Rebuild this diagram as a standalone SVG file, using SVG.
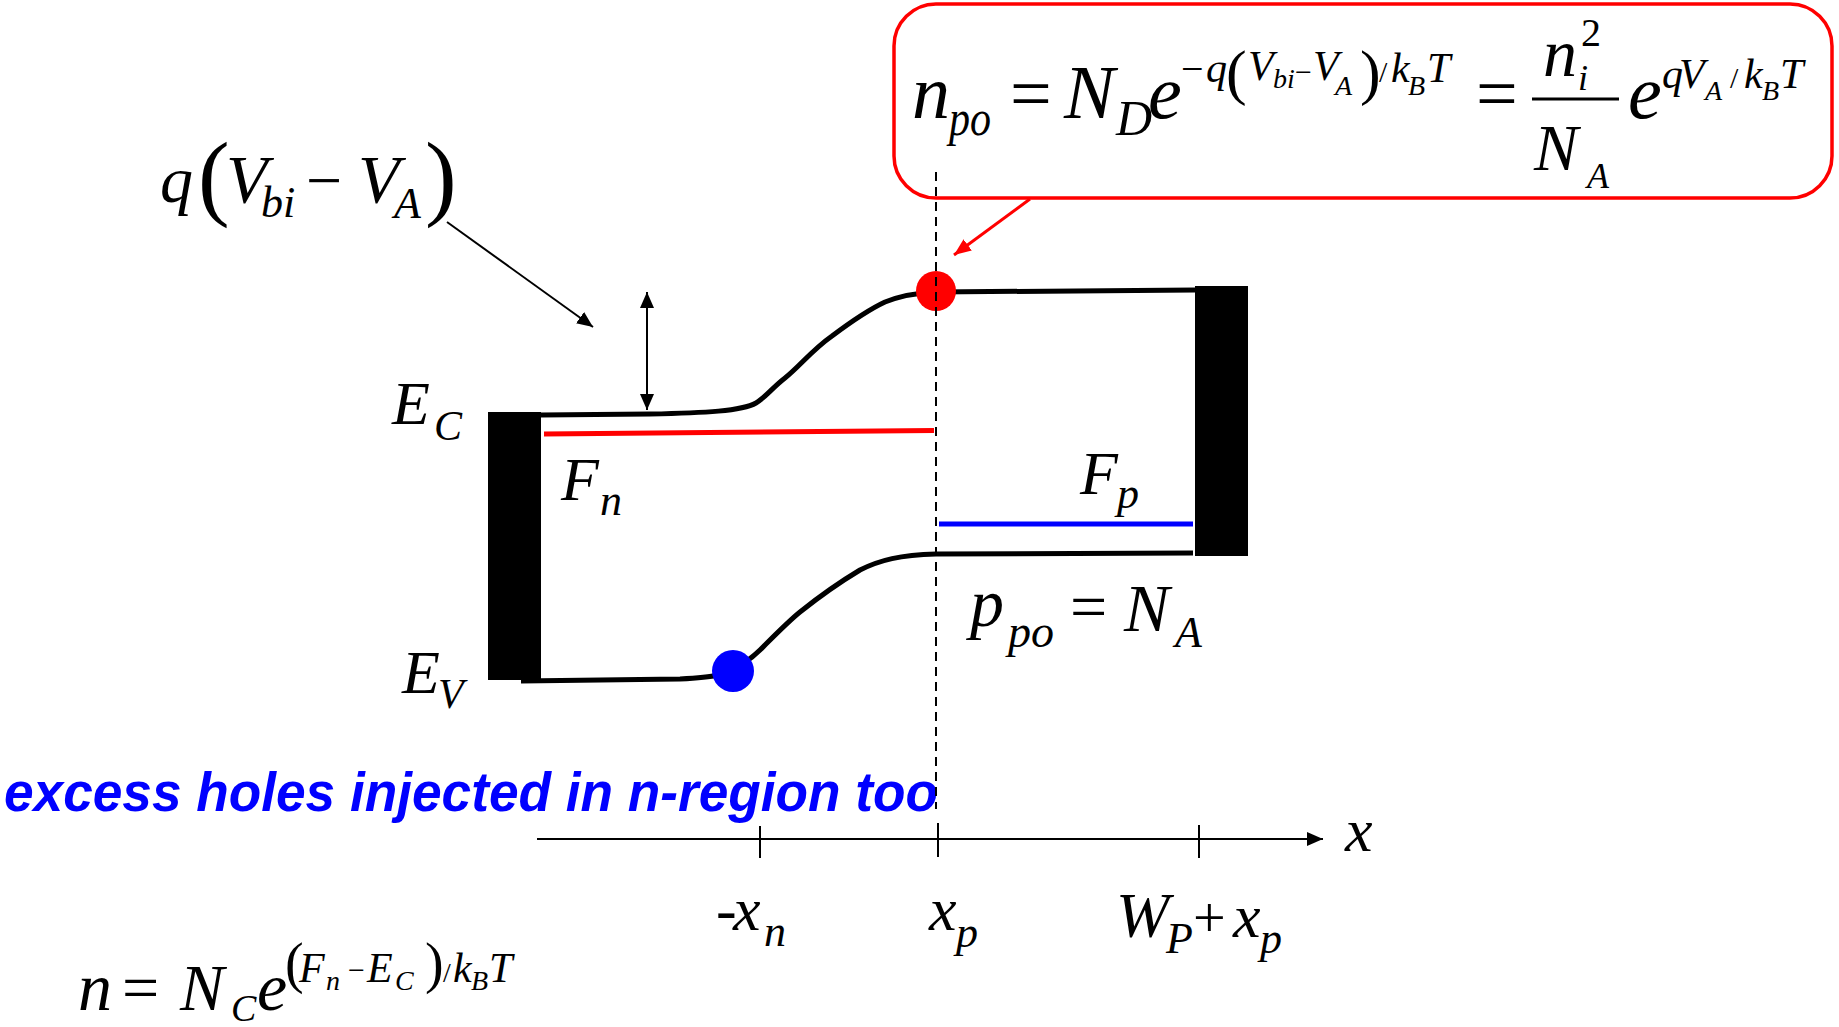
<svg xmlns="http://www.w3.org/2000/svg" width="1839" height="1027" viewBox="0 0 1839 1027">
<style>
.m{font-family:"Liberation Serif","Times New Roman",serif;font-style:italic;fill:#000}
.r{font-family:"Liberation Serif","Times New Roman",serif;font-style:normal;fill:#000}
.band{fill:none;stroke:#000;stroke-width:5;stroke-linecap:butt;stroke-linejoin:round}
.thin{fill:none;stroke:#000;stroke-width:2}
.blue{font-family:"Liberation Sans",Arial,sans-serif;font-weight:bold;font-style:italic;fill:#0000ff}
</style>
<defs>
<marker id="ah" markerWidth="16" markerHeight="14" refX="16" refY="7" orient="auto-start-reverse" markerUnits="userSpaceOnUse"><path d="M0,0 L16,7 L0,14 Z" fill="#000"/></marker>
<marker id="ahr" markerWidth="17" markerHeight="14" refX="17" refY="7" orient="auto" markerUnits="userSpaceOnUse"><path d="M0,0 L17,7 L0,14 Z" fill="#ff0000"/></marker>
</defs>
<rect width="1839" height="1027" fill="#fff"/>

<g id="callout">
<rect x="894" y="4" width="938" height="194" rx="42" ry="42" fill="#fff" stroke="#ff0000" stroke-width="3.5"/>
<text class="m" x="912" y="118" font-size="76">n</text>
<text class="m" x="949" y="135" font-size="50" textLength="42" lengthAdjust="spacingAndGlyphs">po</text>
<text class="r" x="1010" y="118" font-size="74">=</text>
<text class="m" x="1064" y="118" font-size="76">N</text>
<text class="m" x="1116" y="135" font-size="50">D</text>
<text class="m" x="1148" y="118" font-size="76">e</text>
<text class="r" x="1181" y="82" font-size="40">−</text>
<text class="m" x="1206" y="82" font-size="42">q</text>
<text class="r" x="1226" y="93" font-size="62">(</text>
<text class="m" x="1248" y="80" font-size="42">V</text>
<text class="m" x="1273" y="88" font-size="28">bi</text>
<text class="r" x="1295" y="82" font-size="30">−</text>
<text class="m" x="1313" y="80" font-size="42">V</text>
<text class="m" x="1335" y="95" font-size="28">A</text>
<text class="r" x="1360" y="93" font-size="62">)</text>
<text class="r" x="1379" y="82" font-size="30">/</text>
<text class="m" x="1391" y="82" font-size="42">k</text>
<text class="m" x="1408" y="95" font-size="28">B</text>
<text class="m" x="1427" y="82" font-size="42">T</text>
<text class="r" x="1476" y="118" font-size="74">=</text>
<line x1="1532" y1="99" x2="1619" y2="99" stroke="#000" stroke-width="3"/>
<text class="m" x="1543" y="76" font-size="68">n</text>
<text class="r" x="1581" y="46" font-size="40">2</text>
<text class="m" x="1578" y="90" font-size="36">i</text>
<text class="m" x="1534" y="170" font-size="66">N</text>
<text class="m" x="1587" y="188" font-size="36">A</text>
<text class="m" x="1628" y="118" font-size="76">e</text>
<text class="m" x="1662" y="88" font-size="42">q</text>
<text class="m" x="1679" y="88" font-size="42">V</text>
<text class="m" x="1705" y="100" font-size="28">A</text>
<text class="r" x="1730" y="88" font-size="30">/</text>
<text class="m" x="1744" y="88" font-size="42">k</text>
<text class="m" x="1762" y="100" font-size="28">B</text>
<text class="m" x="1780" y="88" font-size="42">T</text>
</g>

<g id="barrier-label">
<text class="m" x="160" y="202" font-size="66">q</text>
<text class="r" x="198" y="208" font-size="95">(</text>
<text class="m" x="226" y="202" font-size="68">V</text>
<text class="m" x="261" y="217" font-size="44">bi</text>
<text class="r" x="306" y="202" font-size="64">−</text>
<text class="m" x="358" y="202" font-size="68">V</text>
<text class="m" x="394" y="218" font-size="44">A</text>
<text class="r" x="425" y="208" font-size="95">)</text>
</g>

<g id="left-contact">
<rect x="488" y="412" width="53" height="268" fill="#000"/>
</g>
<g id="right-contact">
<rect x="1195" y="286" width="53" height="270" fill="#000"/>
</g>

<g id="conduction-band">
<path class="band" d="M541,415 L650,414 C705,413 742,411 756,403 C766,397 772,388 785,378 C800,366 812,350 832,336 C852,321 870,309 885,302 C900,296 915,293 935,292 L1195,290"/>
</g>
<g id="valence-band">
<path class="band" d="M521,681 L680,679 C700,678 710,677 718,675 C738,669 752,659 765,645 C780,630 790,620 800,612 C820,596 840,582 860,570 C880,560 900,555 936,554 L1193,553"/>
</g>
<g id="fermi-n">
<line x1="544" y1="434" x2="934" y2="430.5" stroke="#ff0000" stroke-width="5"/>
</g>
<g id="fermi-p">
<line x1="939" y1="524" x2="1193" y2="524" stroke="#0000ff" stroke-width="5"/>
</g>

<g id="dots">
<circle cx="936" cy="291" r="20" fill="#ff0000"/>
<circle cx="733" cy="671" r="21" fill="#0000ff"/>
</g>

<g id="band-labels">
<text class="m" x="392" y="424" font-size="62">E</text>
<text class="m" x="434" y="440" font-size="42">C</text>
<text class="m" x="402" y="693" font-size="62">E</text>
<text class="m" x="438" y="708" font-size="42">V</text>
<text class="m" x="561" y="500" font-size="62">F</text>
<text class="m" x="600" y="515" font-size="44">n</text>
<text class="m" x="1080" y="494" font-size="62">F</text>
<text class="m" x="1117" y="508" font-size="44">p</text>
<text class="m" x="970" y="626" font-size="68">p</text>
<text class="m" x="1008" y="647" font-size="46">po</text>
<text class="r" x="1070" y="629" font-size="66">=</text>
<text class="m" x="1124" y="631" font-size="68">N</text>
<text class="m" x="1175" y="647" font-size="44">A</text>
</g>

<g id="note">
<text class="blue" x="4" y="811" font-size="56" textLength="934" lengthAdjust="spacingAndGlyphs">excess holes injected in n-region too</text>
</g>

<g id="axis">
<line x1="537" y1="839" x2="1323" y2="839" class="thin" marker-end="url(#ah)"/>
<line x1="760" y1="826" x2="760" y2="858" class="thin"/>
<line x1="938" y1="823" x2="938" y2="857" class="thin"/>
<line x1="1199" y1="825" x2="1199" y2="858" class="thin"/>
<text class="m" x="1345" y="851" font-size="62">x</text>
<text class="r" x="716" y="930" font-size="62">-</text>
<text class="m" x="733" y="930" font-size="62">x</text>
<text class="m" x="764" y="946" font-size="44">n</text>
<text class="m" x="929" y="930" font-size="62">x</text>
<text class="m" x="956" y="947" font-size="44">p</text>
<text class="m" x="1116" y="937" font-size="64">W</text>
<text class="m" x="1166" y="953" font-size="44">P</text>
<text class="r" x="1193" y="937" font-size="58">+</text>
<text class="m" x="1233" y="937" font-size="62">x</text>
<text class="m" x="1260" y="953" font-size="44">p</text>
</g>

<g id="density-formula">
<text class="m" x="78" y="1010" font-size="68">n</text>
<text class="r" x="122" y="1010" font-size="66">=</text>
<text class="m" x="180" y="1010" font-size="66">N</text>
<text class="m" x="231" y="1021" font-size="38">C</text>
<text class="m" x="257" y="1010" font-size="68">e</text>
<text class="r" x="285" y="982" font-size="56">(</text>
<text class="m" x="299" y="982" font-size="42">F</text>
<text class="m" x="326" y="990" font-size="28">n</text>
<text class="r" x="348" y="980" font-size="30">−</text>
<text class="m" x="367" y="982" font-size="42">E</text>
<text class="m" x="395" y="990" font-size="28">C</text>
<text class="r" x="425" y="982" font-size="56">)</text>
<text class="r" x="443" y="982" font-size="28">/</text>
<text class="m" x="453" y="982" font-size="42">k</text>
<text class="m" x="471" y="990" font-size="28">B</text>
<text class="m" x="489" y="982" font-size="42">T</text>
</g>

<g id="connectors">
<line x1="936" y1="172" x2="936" y2="809" stroke="#000" stroke-width="2" stroke-dasharray="9,6"/>
<line x1="1030" y1="199" x2="954" y2="255" stroke="#ff0000" stroke-width="3" marker-end="url(#ahr)"/>
<line x1="447" y1="222" x2="593" y2="327" class="thin" marker-end="url(#ah)"/>
<line x1="647" y1="292" x2="647" y2="410" class="thin" marker-start="url(#ah)" marker-end="url(#ah)"/>
</g>
</svg>
